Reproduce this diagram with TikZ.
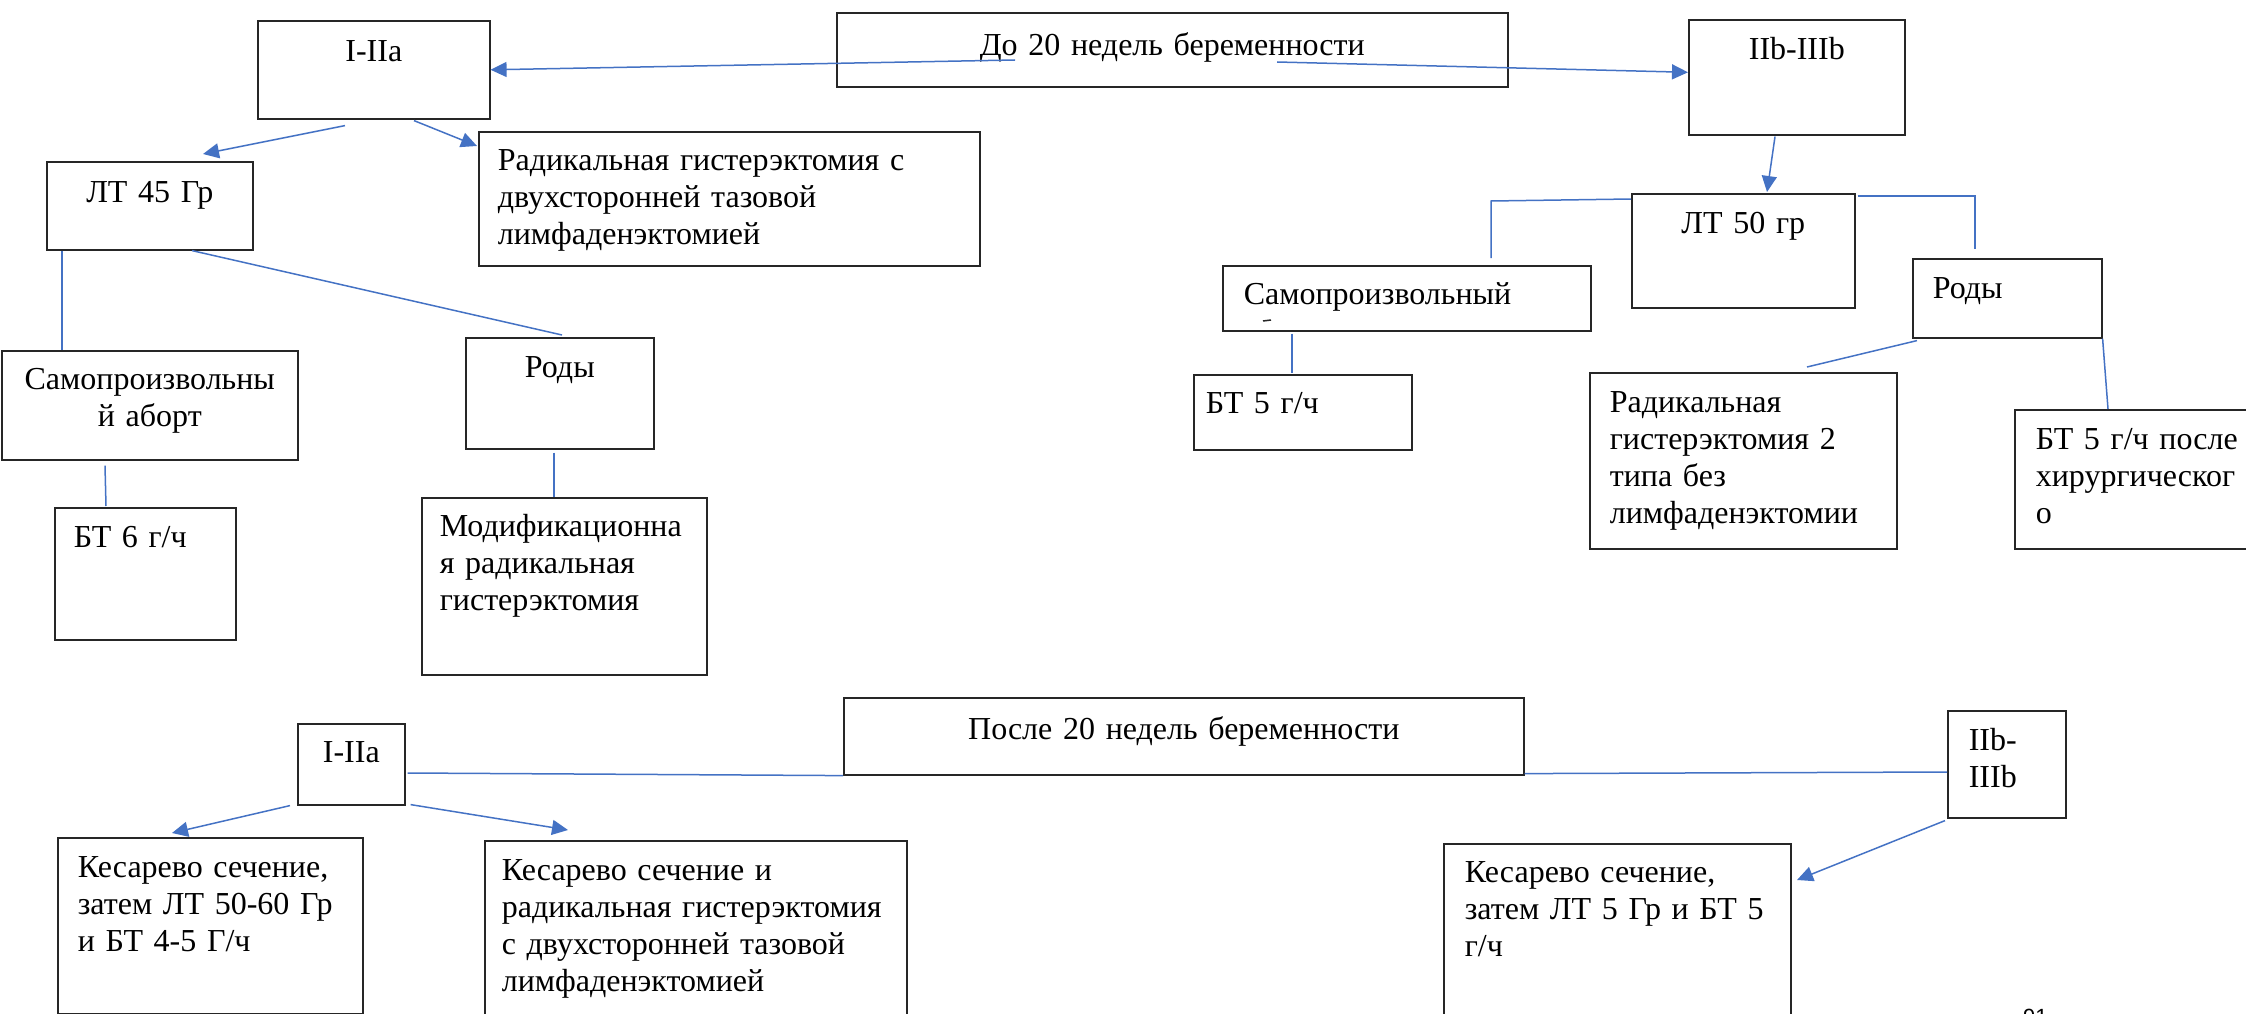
\documentclass[tikz,border=0pt]{standalone}
\usepackage{fontspec}
\setmainfont{Liberation Serif}
\newfontfamily\pagenum{Liberation Sans}
\usepackage{tikz}
\usetikzlibrary{arrows.meta}
\definecolor{LineBlue}{HTML}{4472C4}
\definecolor{BoxLine}{HTML}{262626}
\hyphenpenalty=10000 \exhyphenpenalty=10000
\tikzset{
  bx/.style={draw=BoxLine, line width=1.6pt, anchor=north west, inner ysep=0pt,
             font=\fontsize{32}{37}\selectfont},
  sz/.style n args={4}{text width=#1pt, text height=#2pt, text depth=#3pt, inner xsep=#4pt},
  ln/.style={draw=LineBlue, line width=1.5pt},
  arr/.style={ln, -{Triangle[length=16pt,width=15pt]}}
}
\begin{document}
\begin{tikzpicture}[x=1pt, y=-1pt]
  \useasboundingbox (0,0) rectangle (2246,1014);
  \clip (0,0) rectangle (2246,1014);
  % до 20 недель
  \node[bx, align=center, sz={651}{43}{31}{10}] (d20) at (836,12) {До 20 недель беременности};
  \node[bx, align=center, sz={212}{41}{57}{10}] (ia) at (257,20) {I-IIa};
  \node[bx, align=center, sz={196}{40}{75}{10}] (iib) at (1688,19) {IIb-IIIb};
  \node[bx, align=center, sz={186}{41}{47}{10}] (lt45) at (46,161) {ЛТ 45 Гр};
  \node[bx, align=left, sz={463}{39}{95}{19}] (rhe) at (478,131) {Радикальная гистерэктомия с\\двухсторонней тазовой\\лимфаденэктомией};
  \node[bx, align=center, sz={280}{39}{70}{8}] (sam1) at (1,350) {Самопроизвольны\\й аборт};
  \node[bx, align=center, sz={168}{40}{71}{10}] (rod1) at (465,337) {Роды};
  \node[bx, align=left, sz={143}{40}{92}{19}] (bt6) at (54,507) {БТ 6 г/ч};
  \node[bx, align=left, sz={249}{39}{138}{18}] (mod) at (421,497) {Модификационна\\я радикальная\\гистерэктомия};
  \node[bx, align=center, sz={203}{40}{74}{10}] (lt50) at (1631,193) {ЛТ 50 гр};
  \node[bx, align=left, sz={326}{39}{26}{21}] (sam2) at (1222,265) {Самопроизвольный};
  \node[bx, align=left, sz={149}{40}{39}{20}] (rod2) at (1912,258) {Роды};
  \node[bx, align=left, sz={194}{39}{36}{12}] (bt5) at (1193,374) {БТ 5 г/ч};
  \node[bx, align=left, sz={267}{40}{136}{20}] (rh2) at (1589,372) {Радикальная\\гистерэктомия 2\\типа без\\лимфаденэктомии};
  \node[bx, align=left, sz={218}{40}{99}{21}] (btp) at (2014,409) {БТ 5 г/ч после\\хирургическог\\о};
  \draw[arr] ([shift={(179,48)}]d20.north west) -- (ia.east);
  \draw[arr] ([shift={(441,50)}]d20.north west) -- ([shift={(0,-5)}]iib.west);
  \draw[arr] ([shift={(88,6)}]ia.south west) -- ([shift={(157,-7)}]lt45.north west);
  \draw[arr] ([shift={(157,1)}]ia.south west) -- ([shift={(-1,15)}]rhe.north west);
  \draw[arr] ([shift={(87,1)}]iib.south west) -- ([shift={(136,-1)}]lt50.north west);
  \draw[ln] ([shift={(16,0)}]lt45.south west) -- ([shift={(61,0)}]sam1.north west);
  \draw[ln] ([shift={(146,0)}]lt45.south west) -- ([shift={(97,-2)}]rod1.north west);
  \draw[ln] ([shift={(104,5)}]sam1.south west) -- ([shift={(52,-1)}]bt6.north west);
  \draw[ln] ([shift={(89,3)}]rod1.south west) -- ([shift={(133,0)}]mod.north west);
  \draw[ln] ([shift={(0,6)}]lt50.north west) -- ([shift={(269,-64)}]sam2.north west) -- ([shift={(269,-7)}]sam2.north west);
  \draw[ln] ([shift={(2,3)}]lt50.north east) -- ([shift={(63,-62)}]rod2.north west) -- ([shift={(63,-9)}]rod2.north west);
  \draw[ln] ([shift={(70,2)}]sam2.south west) -- ([shift={(99,-1)}]bt5.north west);
  \draw[ln] ([shift={(5,2)}]rod2.south west) -- ([shift={(218,-5)}]rh2.north west);
  \draw[ln] (rod2.south east) -- ([shift={(94,0)}]btp.north west);
  \draw[BoxLine, line width=1.5pt] ([shift={(41,56)}]sam2.north west) -- ++(8,-1);
  % после 20 недель
  \node[bx, align=center, sz={660}{42}{35}{10}] (p20) at (843,697) {После 20 недель беременности};
  \node[bx, align=center, sz={97}{39}{42}{5}] (ib) at (297,723) {I-IIa};
  \node[bx, align=left, sz={76}{40}{67}{21}] (iiib) at (1947,710) {IIb-\\IIIb};
  \node[bx, align=left, sz={265}{40}{136}{20}] (ks1) at (57,837) {Кесарево сечение,\\затем ЛТ 50-60 Гр\\и БТ 4-5 Г/ч};
  \node[bx, align=left, sz={388}{40}{160}{17}] (ks2) at (484,840) {Кесарево сечение и\\радикальная гистерэктомия\\с двухсторонней тазовой\\лимфаденэктомией};
  \node[bx, align=left, sz={305}{39}{161}{21}] (ks3) at (1443,843) {Кесарево сечение,\\затем ЛТ 5 Гр и БТ 5\\г/ч};
  \draw[ln] ([shift={(2,50)}]ib.north east) -- (p20.south west);
  \draw[ln] ([shift={(0,-2)}]p20.south east) -- ([shift={(0,62)}]iiib.north west);
  \draw[arr] ([shift={(-7,0)}]ib.south west) -- ([shift={(115,-4)}]ks1.north west);
  \draw[arr] ([shift={(5,-1)}]ib.south east) -- ([shift={(84,-10)}]ks2.north west);
  \draw[arr] ([shift={(-2,2)}]iiib.south west) -- ([shift={(354,37)}]ks3.north west);
  \node[font=\pagenum\fontsize{22}{26}\selectfont, anchor=base west, inner sep=0pt] (pg) at (2023,1024) {91};
\end{tikzpicture}
\end{document}
